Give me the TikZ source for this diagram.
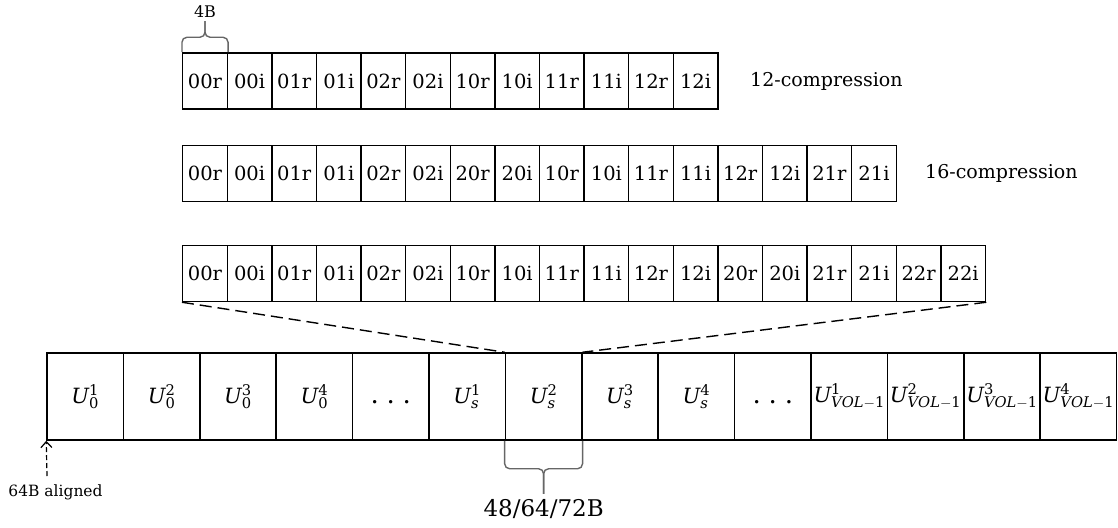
\RequirePackage{fix-cm}
\documentclass[tikz,border=0pt]{standalone}
\usepackage{fontspec}
\setmainfont{DejaVu Serif}
\usetikzlibrary{arrows.meta}

\tikzset{
  cell/.style={draw, line width=1.5pt, minimum width=44.6pt, minimum height=56pt,
    inner sep=0pt, font=\fontsize{19.5}{24}\selectfont},
  ucell/.style={draw, line width=1.5pt, minimum width=76.4pt, minimum height=87pt,
    inner sep=0pt, font=\fontsize{21}{25}\selectfont},
  rowlbl/.style={anchor=west, inner sep=0pt, font=\fontsize{19}{24}\selectfont},
  bracecol/.style={draw=black!60, line width=1.4pt, rounded corners=5pt},
}
\newcommand{\ublk}[2]{$\mathit{U}_{#1}^{\mathrm{#2}}$}
\newcommand{\udots}{\vphantom{U}{\fontsize{26}{30}\selectfont.\hspace{0.3em}.\hspace{0.3em}.}}

\begin{document}
\begin{tikzpicture}[x=1pt,y=-1pt]
\useasboundingbox (0,0) rectangle (1118,527);

% 12-compression
\foreach \lab [count=\i] in {00r,00i,01r,01i,02r,02i,10r,10i,11r,11i,12r,12i}
  \node[cell] (a\i) at (182.7+44.6*\i-22.3,81) {\lab};
\node[rowlbl] (lbla) at (750,81) {12-compression};

% 16-compression
\foreach \lab [count=\i] in {00r,00i,01r,01i,02r,02i,20r,20i,10r,10i,11r,11i,12r,12i,21r,21i}
  \node[cell] (b\i) at (182.7+44.6*\i-22.3,173.5) {\lab};
\node[rowlbl] (lblb) at (925,173.5) {16-compression};

% 18 entries
\foreach \lab [count=\i] in {00r,00i,01r,01i,02r,02i,10r,10i,11r,11i,12r,12i,20r,20i,21r,21i,22r,22i}
  \node[cell] (c\i) at (182.7+44.6*\i-22.3,273.5) {\lab};

% U blocks
\foreach \lab [count=\i] in {{\ublk{\mathrm{0}}{1}},{\ublk{\mathrm{0}}{2}},{\ublk{\mathrm{0}}{3}},{\ublk{\mathrm{0}}{4}},{\udots},
    {\ublk{\mathit{s}}{1}},{\ublk{\mathit{s}}{2}},{\ublk{\mathit{s}}{3}},{\ublk{\mathit{s}}{4}},{\udots},
    {\ublk{\mathit{VOL}-\mathrm{1}}{1}},{\ublk{\mathit{VOL}-\mathrm{1}}{2}},
    {\ublk{\mathit{VOL}-\mathrm{1}}{3}},{\ublk{\mathit{VOL}-\mathrm{1}}{4}}}
  \node[ucell] (u\i) at (47+76.4*\i-38.2,396.5) {\lab};

\draw[line width=1.4pt, dash pattern=on 12pt off 6pt] (c1.south west) -- (u7.north west);
\draw[line width=1.4pt, dash pattern=on 12pt off 6pt] (c18.south east) -- (u7.north east);

% braces
\draw[bracecol] (a1.north west) |- ([yshift=15pt]a1.north) -- ([yshift=31pt]a1.north);
\draw[bracecol] (a1.north east) |- ([yshift=15pt]a1.north) -- ([yshift=31pt]a1.north);
\node[above, inner sep=4pt, font=\fontsize{16}{19}\selectfont] (sz4) at ([yshift=31pt]a1.north) {4B};

\draw[bracecol] (u7.south west) |- ([yshift=-28pt]u7.south) -- ([yshift=-53pt]u7.south);
\draw[bracecol] (u7.south east) |- ([yshift=-28pt]u7.south) -- ([yshift=-53pt]u7.south);
\node[below, inner sep=5pt, font=\fontsize{23}{27}\selectfont] (szu) at ([yshift=-53pt]u7.south) {48/64/72B};

% alignment
\coordinate (tail) at (47,476);
\draw[line width=1.2pt, dash pattern=on 5pt off 3pt, -{Straight Barb[length=6pt,width=11pt]}]
  (tail) -- (u1.south west);
\node[font=\fontsize{15.5}{19}\selectfont] (algn) at (55.5,492) {64B aligned};
\end{tikzpicture}
\end{document}
